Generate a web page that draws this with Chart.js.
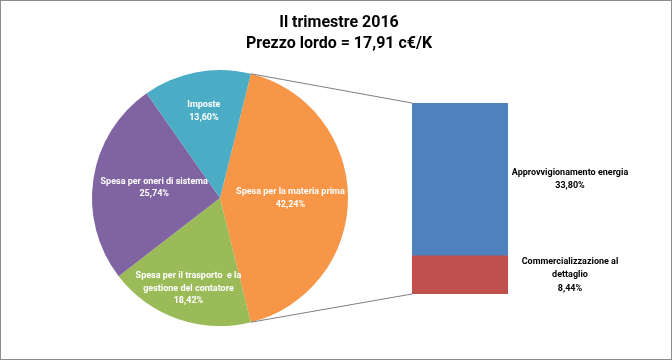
<!DOCTYPE html>
<html lang="it">
<head>
  <meta charset="UTF-8">
  <title>II trimestre 2016</title>
  <script src="https://cdn.jsdelivr.net/npm/chart.js"></script>
  <style>
    html, body { margin: 0; padding: 0; background: #fff; }
    #box {
      position: relative;
      width: 672px;
      height: 360px;
      box-sizing: border-box;
      border: 1px solid #8c8c8c;
      overflow: hidden;
    }
    #box canvas {
      position: absolute;
      left: -1px;
      top: -1px;
    }
    #titolo {
      position: absolute;
      left: 0;
      top: 10px;
      width: 676px;
      text-align: center;
      font: bold 16px Roboto, sans-serif;
      line-height: 21px;
      color: #000;
      z-index: 2;
    }
  </style>
</head>
<body>
  <div id="box">
    <canvas id="pie" width="672" height="360"></canvas>
    <canvas id="bar" width="672" height="360"></canvas>
    <div id="titolo"></div>
  </div>

  <script>
    // dati
    const titolo = ['Il trimestre 2016', 'Prezzo lordo = 17,91 c€/K'];
    const vociTorta = [
      ['Spesa per la materia prima'],
      ['Spesa per il trasporto  e la', 'gestione del contatore'],
      ['Spesa per oneri di sistema'],
      ['Imposte']
    ];
    const valoriTorta = [42.24, 18.42, 25.74, 13.60];
    const vociBarra = [['Commercializzazione al', 'dettaglio'], ['Approvvigionamento energia']];
    const valoriBarra = [8.44, 33.80];

    // stile
    const coloriTorta = ['#F79646', '#9BBB59', '#8064A2', '#4BACC6'];
    const coloriBarra = ['#C0504D', '#4F81BD'];
    const raggioEtichetta = [0.55, 0.75, 0.52, 0.69];
    const fontEtichetta = 'bold 9px Roboto, sans-serif';

    document.getElementById('titolo').innerHTML = titolo.join('<br>');

    const fmt = v => v.toFixed(2).replace('.', ',') + '%';

    function scriviRighe(ctx, righe, x, y, lh) {
      const y0 = y - (righe.length - 1) * lh / 2;
      righe.forEach((r, i) => ctx.fillText(r, x, y0 + i * lh));
    }

    const etichetteTorta = {
      id: 'etichetteTorta',
      afterDraw(chart) {
        const ctx = chart.ctx;
        const meta = chart.getDatasetMeta(0);
        ctx.save();
        ctx.font = fontEtichetta;
        ctx.fillStyle = '#fff';
        ctx.textAlign = 'center';
        ctx.textBaseline = 'middle';
        meta.data.forEach((arc, i) => {
          const p = arc.getProps(['x', 'y', 'startAngle', 'endAngle', 'outerRadius']);
          const a = (p.startAngle + p.endAngle) / 2;
          const r = p.outerRadius * raggioEtichetta[i];
          const x = p.x + Math.cos(a) * r;
          const y = p.y + Math.sin(a) * r;
          scriviRighe(ctx, vociTorta[i].concat([fmt(valoriTorta[i])]), x, y, 12.5);
        });
        ctx.restore();
      }
    };

    const pieChart = new Chart(document.getElementById('pie'), {
      type: 'pie',
      data: {
        labels: vociTorta.map(v => v.join(' ')),
        datasets: [{
          data: valoriTorta,
          backgroundColor: coloriTorta,
          borderWidth: 0
        }]
      },
      options: {
        responsive: false,
        animation: false,
        rotation: 90 - valoriTorta[0] * 3.6 / 2,
        layout: { padding: { left: 92, right: 324, top: 70, bottom: 34 } },
        plugins: {
          legend: { display: false },
          tooltip: { enabled: false }
        }
      },
      plugins: [etichetteTorta]
    });

    const connettori = {
      id: 'connettori',
      afterDraw(chart) {
        const ctx = chart.ctx;
        const arc = pieChart.getDatasetMeta(0).data[0];
        const p = arc.getProps(['x', 'y', 'startAngle', 'endAngle', 'outerRadius']);
        const top = chart.getDatasetMeta(1).data[0];
        const bot = chart.getDatasetMeta(0).data[0];
        const xl = top.x - top.width / 2;
        ctx.save();
        ctx.strokeStyle = '#7f7f7f';
        ctx.lineWidth = 1;
        ctx.beginPath();
        ctx.moveTo(p.x + Math.cos(p.startAngle) * p.outerRadius, p.y + Math.sin(p.startAngle) * p.outerRadius);
        ctx.lineTo(xl, top.y);
        ctx.moveTo(p.x + Math.cos(p.endAngle) * p.outerRadius, p.y + Math.sin(p.endAngle) * p.outerRadius);
        ctx.lineTo(xl, bot.base);
        ctx.stroke();

        ctx.font = fontEtichetta;
        ctx.fillStyle = '#000';
        ctx.textAlign = 'center';
        ctx.textBaseline = 'middle';
        chart.data.datasets.forEach((ds, i) => {
          const el = chart.getDatasetMeta(i).data[0];
          const x = el.x + el.width / 2 + 62;
          const y = (el.y + el.base) / 2;
          scriviRighe(ctx, vociBarra[i].concat([fmt(valoriBarra[i])]), x, y, 13.5);
        });
        ctx.restore();
      }
    };

    const totale = valoriBarra.reduce((a, b) => a + b, 0);

    new Chart(document.getElementById('bar'), {
      type: 'bar',
      data: {
        labels: [''],
        datasets: valoriBarra.map((v, i) => ({
          label: vociBarra[i].join(' '),
          data: [v],
          backgroundColor: coloriBarra[i],
          borderWidth: 0,
          categoryPercentage: 1,
          barPercentage: 1
        }))
      },
      options: {
        responsive: false,
        animation: false,
        layout: { padding: { left: 412, right: 164, top: 103, bottom: 66 } },
        scales: {
          x: { stacked: true, display: false },
          y: { stacked: true, display: false, min: 0, max: totale }
        },
        plugins: {
          legend: { display: false },
          tooltip: { enabled: false }
        }
      },
      plugins: [connettori]
    });
  </script>
</body>
</html>
